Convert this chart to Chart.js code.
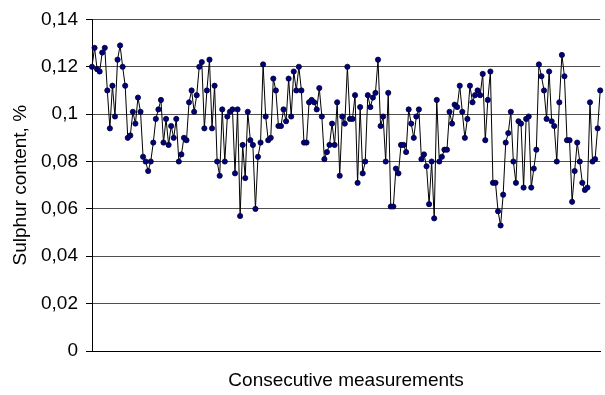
<!DOCTYPE html>
<html>
<head>
<meta charset="utf-8">
<script src="https://cdn.jsdelivr.net/npm/chart.js@4.4.1/dist/chart.umd.min.js"></script>
<style>
  html, body { margin: 0; padding: 0; background: #fff; }
  #wrap { width: 605px; height: 395px; }
</style>
</head>
<body>
<div id="wrap"><canvas id="mainChart" width="605" height="395"></canvas></div>
<script>
// ─── DATA ────────────────────────────────────
// sulphur content per consecutive measurement, read off the picture
const sulphur = [
  0.120, 0.128, 0.119, 0.118, 0.126, 0.128, 0.110, 0.094, 0.112, 0.099,
  0.123, 0.129, 0.120, 0.112, 0.090, 0.091, 0.101, 0.096, 0.107, 0.101,
  0.082, 0.080, 0.076, 0.080, 0.088, 0.098, 0.102, 0.106, 0.088, 0.098,
  0.087, 0.095, 0.090, 0.098,
  0.080, 0.083, 0.090, 0.089, 0.105, 0.110, 0.101, 0.108, 0.120, 0.122,
  0.094, 0.110, 0.123, 0.094, 0.112, 0.080, 0.074, 0.102, 0.080, 0.099,
  0.101, 0.102, 0.075, 0.102, 0.057, 0.087, 0.073, 0.101, 0.089, 0.087,
  0.060, 0.082,
  0.088, 0.121, 0.099, 0.089, 0.090, 0.115, 0.110, 0.095, 0.095, 0.102,
  0.097, 0.115, 0.099, 0.118, 0.110, 0.120, 0.110, 0.088, 0.088, 0.105,
  0.106, 0.105, 0.102, 0.111, 0.099, 0.081, 0.084, 0.087, 0.096, 0.087,
  0.105, 0.074, 0.099,
  0.096, 0.120, 0.098, 0.098, 0.108, 0.071, 0.103, 0.075, 0.080, 0.108,
  0.103, 0.107, 0.109, 0.123, 0.095, 0.099, 0.080, 0.109, 0.061, 0.061,
  0.077, 0.075, 0.087, 0.087, 0.084, 0.102, 0.096, 0.090, 0.099, 0.102,
  0.081, 0.083, 0.078,
  0.062, 0.080, 0.056, 0.106, 0.080, 0.082, 0.085, 0.085, 0.101, 0.096,
  0.104, 0.103, 0.112, 0.101, 0.090, 0.098, 0.112, 0.105, 0.108, 0.110,
  0.108, 0.117, 0.089, 0.106, 0.118, 0.071, 0.071, 0.059, 0.053, 0.066,
  0.088, 0.092, 0.101,
  0.080, 0.071, 0.097, 0.096, 0.069, 0.098, 0.099, 0.069, 0.077, 0.085,
  0.121, 0.116, 0.110, 0.098, 0.118, 0.097, 0.095, 0.080, 0.105, 0.125,
  0.116, 0.089, 0.089, 0.063, 0.076, 0.088, 0.080, 0.071, 0.068, 0.069,
  0.105, 0.080, 0.081, 0.094, 0.110
];

// measurement numbers (no labels shown on the axis)
const measurementNo = sulphur.map((_, i) => i + 1);

// y tick values and their printed labels (decimal comma)
const yTicks      = [0, 0.02, 0.04, 0.06, 0.08, 0.1, 0.12, 0.14];
const yTickLabels = ['0', '0,02', '0,04', '0,06', '0,08', '0,1', '0,12', '0,14'];

const FONT = "'Liberation Sans', Arial, sans-serif";

// ─── CHART ───────────────────────────────────
const ctx = document.getElementById('mainChart').getContext('2d');

new Chart(ctx, {
  type: 'line',
  data: {
    labels: measurementNo,
    datasets: [{
      data: sulphur,
      borderColor: '#000',
      borderWidth: 1,
      tension: 0,
      pointRadius: 2.6,
      pointBorderWidth: 0.8,
      pointBackgroundColor: '#000080',
      pointBorderColor: '#000030',
      clip: false,
    }]
  },
  options: {
    responsive: false,
    devicePixelRatio: 1,
    animation: false,
    layout: { padding: { top: 17, right: 0, left: 0, bottom: 0 } },
    plugins: { legend: { display: false }, tooltip: { enabled: false } },
    scales: {
      x: {
        type: 'category',
        offset: false,
        grid: { display: false },
        border: { display: true, color: '#000', width: 1 },
        ticks: { display: false },
        title: {
          display: true,
          text: 'Consecutive measurements',
          color: '#000',
          font: { family: FONT, size: 19 },
          padding: { top: 0, bottom: 3 }
        },
        afterFit: s => { s.height = 44; }
      },
      y: {
        min: 0,
        max: 0.14,
        afterBuildTicks: s => { s.ticks = yTicks.map(v => ({ value: v })); },
        grid: { color: '#505050', lineWidth: 1, tickColor: '#000', tickLength: 6 },
        border: { display: true, color: '#000', width: 1 },
        ticks: {
          color: '#000',
          font: { family: FONT, size: 19 },
          padding: 8,
          callback: v => yTickLabels[yTicks.findIndex(t => Math.abs(t - v) < 1e-9)]
        },
        title: {
          display: true,
          text: 'Sulphur content, %',
          color: '#000',
          font: { family: FONT, size: 19 },
          padding: { top: 9, bottom: 0 }
        },
        afterFit: s => { s.width = 92; }
      }
    }
  }
});
</script>
</body>
</html>
